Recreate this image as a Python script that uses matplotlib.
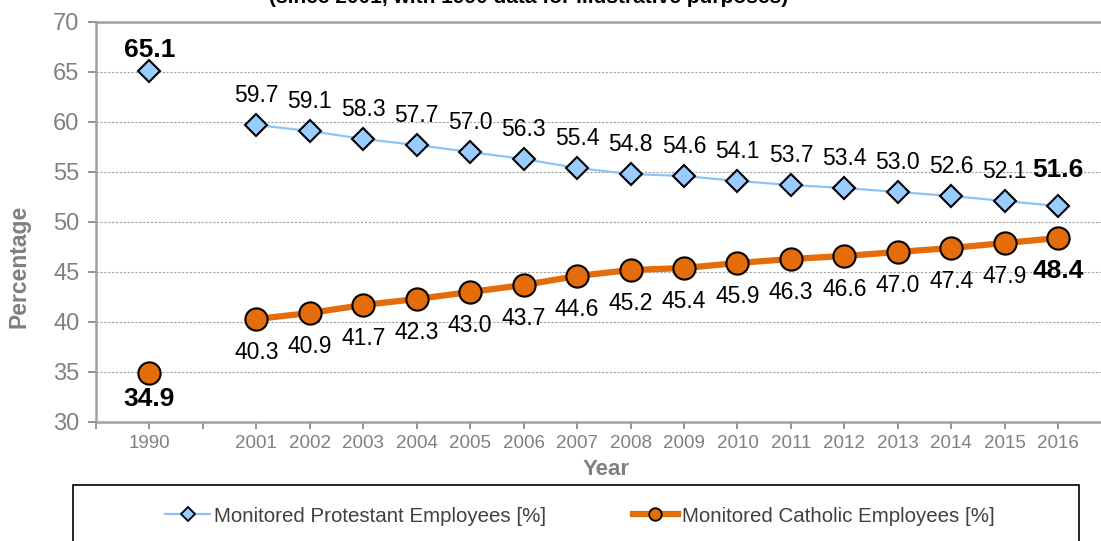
import matplotlib
matplotlib.use("Agg")
import matplotlib.pyplot as plt
from matplotlib.lines import Line2D
from matplotlib.patches import Rectangle

plt.rcParams['font.family'] = ['Liberation Sans', 'DejaVu Sans']

# ----------------------------
# Data
# ----------------------------
years = ["1990", "2001", "2002", "2003", "2004", "2005", "2006", "2007", "2008",
         "2009", "2010", "2011", "2012", "2013", "2014", "2015", "2016"]
protestant = [65.1, 59.7, 59.1, 58.3, 57.7, 57.0, 56.3, 55.4, 54.8,
              54.6, 54.1, 53.7, 53.4, 53.0, 52.6, 52.1, 51.6]
catholic = [34.9, 40.3, 40.9, 41.7, 42.3, 43.0, 43.7, 44.6, 45.2,
            45.4, 45.9, 46.3, 46.6, 47.0, 47.4, 47.9, 48.4]

# 1990 sits on its own, one empty slot before 2001
xpos = [0] + list(range(2, 2 + len(years) - 1))

blue_fill = "#99CCFF"
blue_line = "#8DC4F5"
orange = "#E46C0A"
grey = "#808080"

fig = plt.figure(figsize=(11.01, 5.41), dpi=100)
ax = fig.add_axes([96 / 1101, 1 - 422 / 541, 1 - 96 / 1101, 400 / 541])

# 1990 points (not connected)
ax.plot(xpos[:1], protestant[:1], linestyle="none", marker="D", markersize=11,
        markerfacecolor=blue_fill, markeredgecolor="black", markeredgewidth=1.5, zorder=4)
ax.plot(xpos[:1], catholic[:1], linestyle="none", marker="o", markersize=16,
        markerfacecolor=orange, markeredgecolor="black", markeredgewidth=1.5, zorder=4)

# 2001-2016 series
ax.plot(xpos[1:], protestant[1:], color=blue_line, linewidth=1.6, marker="D", markersize=11,
        markerfacecolor=blue_fill, markeredgecolor="black", markeredgewidth=1.5, zorder=4)
ax.plot(xpos[1:], catholic[1:], color=orange, linewidth=4.5, marker="o", markersize=16,
        markerfacecolor=orange, markeredgecolor="black", markeredgewidth=1.5, zorder=4)

# data labels
last = len(years) - 1
for i, (x, p, c) in enumerate(zip(xpos, protestant, catholic)):
    bold = i == 0 or i == last
    size = 19 if bold else 16.5
    weight = "bold" if bold else "normal"
    up = 15 if i == 0 else (26 if i == last else 21)
    ax.annotate(f"{p:.1f}", (x, p), xytext=(0, up), textcoords="offset points",
                ha="center", va="center", fontsize=size, fontweight=weight, color="black")
    down = 19 if i == 0 else 24
    ax.annotate(f"{c:.1f}", (x, c), xytext=(0, -down), textcoords="offset points",
                ha="center", va="center", fontsize=size, fontweight=weight, color="black")

# ----------------------------
# Axes styling
# ----------------------------
ax.set_xlim(-1, 17.8)
ax.set_ylim(30, 70)
ax.set_yticks(range(30, 71, 5))
ax.set_xticks([-1, 1] + xpos)
ax.set_xticklabels(["", ""] + years)
ax.tick_params(axis="x", labelsize=13.5, colors=grey, length=5, width=1.2, pad=4)
ax.tick_params(axis="y", labelsize=17, colors=grey, length=6, width=1.2, pad=6)

ax.grid(axis="y", linestyle=(0, (2, 1.5)), color="#A0A0A0", linewidth=0.8)
ax.set_axisbelow(True)

for side in ["left", "bottom", "top"]:
    ax.spines[side].set_color("#A0A0A0")
    ax.spines[side].set_linewidth(1.8)
ax.spines["right"].set_visible(False)

ax.set_ylabel("Percentage", fontsize=16.5, fontweight="bold", color=grey)
ax.yaxis.set_label_coords(-0.065, 0.39)
ax.set_xlabel("Year", fontsize=16, fontweight="bold", color=grey)
ax.xaxis.set_label_coords((606 - 96) / (1101 - 96), -0.093)

# title, mostly cut off at the top of the picture
fig.text(529 / 1101, 1 - 3 / 541, "(since 2001, with 1990 data for illustrative purposes)",
         ha="center", va="baseline", fontsize=15, fontweight="bold", color="black")

# ----------------------------
# Legend
# ----------------------------
handles = [
    Line2D([], [], color=blue_line, linewidth=1.6, marker="D", markersize=7,
           markerfacecolor=blue_fill, markeredgecolor="black", markeredgewidth=1.3),
    Line2D([], [], color=orange, linewidth=4.5, marker="o", markersize=9,
           markerfacecolor=orange, markeredgecolor="black", markeredgewidth=1.3),
]
fig.legend(handles, ["Monitored Protestant Employees [%]", "Monitored Catholic Employees [%]"],
           loc="center", bbox_to_anchor=(580 / 1101, 1 - 516 / 541), ncol=2, frameon=False,
           fontsize=14.8, handlelength=2.2, handletextpad=0.2, columnspacing=4.2,
           labelcolor="#404040")
fig.add_artist(Rectangle((73 / 1101, -0.05), (1079 - 73) / 1101, 0.05 + 56 / 541,
                         transform=fig.transFigure, fill=False, edgecolor="black", linewidth=1.2))

fig.savefig("out.png", dpi=100)
